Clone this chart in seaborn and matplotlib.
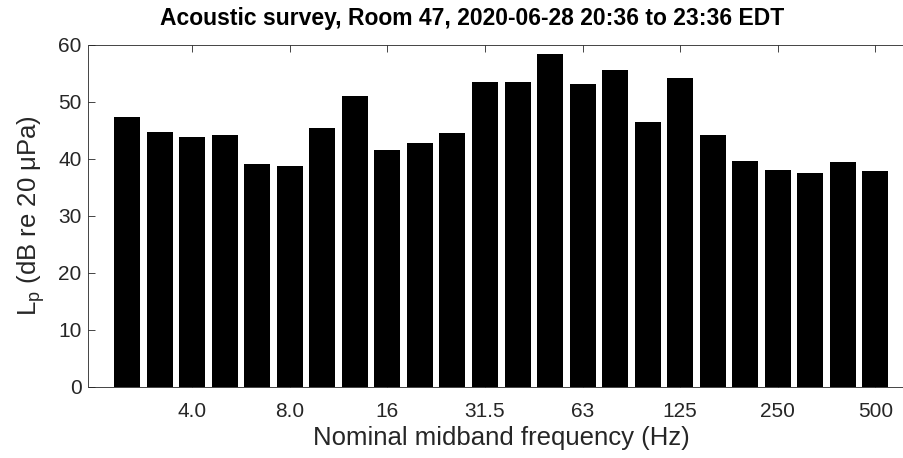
import matplotlib
matplotlib.use("Agg")
import matplotlib.pyplot as plt
import seaborn as sns
import pandas as pd

# One-third octave band centres (Hz) and measured band levels
bands = ["2.5", "3.15", "4.0", "5.0", "6.3", "8.0", "10", "12.5", "16", "20",
         "25", "31.5", "40", "50", "63", "80", "100", "125", "160", "200",
         "250", "315", "400", "500"]
levels = [47.2, 44.7, 43.7, 44.2, 39.0, 38.6, 45.4, 50.9, 41.5, 42.8,
          44.4, 53.4, 53.5, 58.3, 53.1, 55.6, 46.4, 54.2, 44.2, 39.5,
          38.0, 37.4, 39.3, 37.8]
tick_labels = ["4.0", "8.0", "16", "31.5", "63", "125", "250", "500"]

title = "Acoustic survey, Room 47, 2020-06-28 20:36 to 23:36 EDT"

sns.set_style("white")
plt.rcParams["font.family"] = ["Liberation Sans", "DejaVu Sans"]
plt.rcParams["mathtext.default"] = "regular"

df = pd.DataFrame({"band": bands, "level": levels})

fig = plt.figure(figsize=(9.04, 4.58), dpi=100)
ax = fig.add_axes([88.5 / 904, (458 - 386.5) / 458, (914 - 88.5) / 904, 342 / 458])

sns.barplot(data=df, x="band", y="level", color="black", width=0.8,
            edgecolor="none", saturation=1, ax=ax)

axis_col = "#262626"
ax.set_xlim(-1.19, len(bands) - 1 + 1.19)
ax.set_ylim(0, 60)
ax.set_yticks(range(0, 61, 10))
ax.set_xticks([bands.index(t) for t in tick_labels])
ax.set_xticklabels(tick_labels)

for s in ax.spines.values():
    s.set_visible(True)
    s.set_color(axis_col)
    s.set_linewidth(0.6)

ax.tick_params(axis="both", direction="in", length=5, width=0.6, color=axis_col,
               labelcolor=axis_col, labelsize=15, top=True, right=True,
               bottom=True, left=True)
ax.tick_params(axis="x", pad=11)
ax.tick_params(axis="y", pad=5)

ax.set_xlabel("Nominal midband frequency (Hz)", fontsize=18.5, color=axis_col, labelpad=4)
ax.set_ylabel("L$_{p}$ (dB re 20 μPa)", fontsize=18.5, color=axis_col, labelpad=8)
fig.text(472 / 904, 1 - 19 / 458, title, ha="center", va="center",
         fontsize=16.5, fontweight="bold", color="black")

fig.savefig("out.png", dpi=100)
